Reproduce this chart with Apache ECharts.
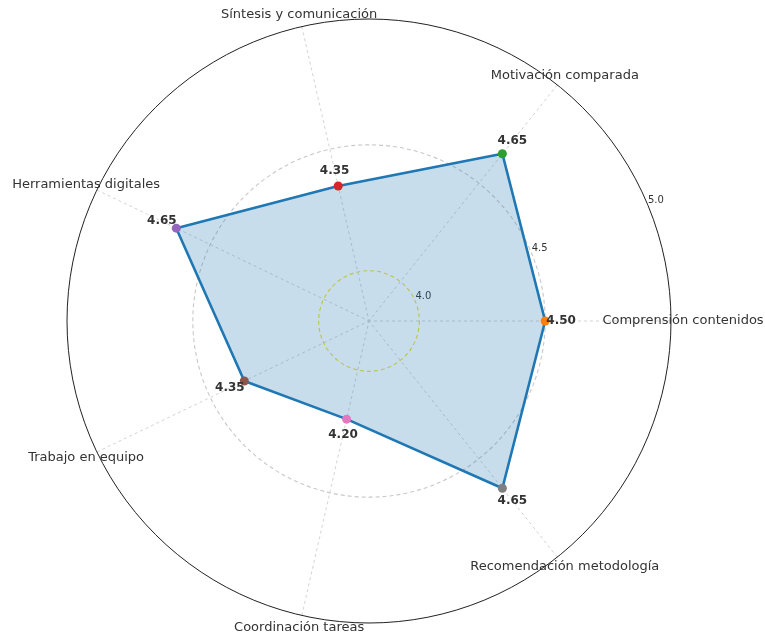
<!DOCTYPE html>
<html>
<head>
<meta charset="utf-8">
<script src="https://cdn.jsdelivr.net/npm/echarts@6/dist/echarts.min.js"></script>
<style>html,body{margin:0;padding:0;background:#fff}#c{width:765px;height:632px}</style>
</head>
<body>
<div id="c"></div>
<script>
const categories = ['Comprensión contenidos','Motivación comparada','Síntesis y comunicación','Herramientas digitales','Trabajo en equipo','Coordinación tareas','Recomendación metodología'];
const values = [4.50, 4.65, 4.35, 4.65, 4.35, 4.20, 4.65];
const markerColors = ['#ff7f0e','#2ca02c','#d62728','#9467bd','#8c564b','#e377c2','#7f7f7f'];
const radialTicks = [4.0, 4.5, 5.0];
const rMin = 3.8, rMax = 5.0;

const FONT = 'DejaVu Sans';
const n = categories.length;
const chart = echarts.init(document.getElementById('c'), null, {renderer:'canvas'});

const lineData = values.map((v, i) => {
  const a = i * 2 * Math.PI / n;
  const d = 16;
  return {
    value: [v, i],
    itemStyle: {color: markerColors[i]},
    label: {show: true, position: 'inside', offset: [d*Math.cos(a), -d*Math.sin(a)]}
  };
});
lineData.push({value: [values[0], n], symbol: 'none', label: {show: false}});

const center = [369, 321];
const R = 302;

chart.setOption({
  animation: false,
  backgroundColor: '#fff',
  polar: [
    {center: center, radius: R},
    {center: center, radius: R}
  ],
  angleAxis: [
    {
      polarIndex: 0, type: 'value', min: 0, max: n, interval: 1, startAngle: 0, clockwise: false,
      axisLine: {show: true, lineStyle: {color: '#222', width: 1}},
      axisTick: {show: false},
      axisLabel: {show: false},
      splitLine: {show: true, lineStyle: {color: '#c8c8c8', type: [3, 3], width: 0.8}}
    },
    {
      polarIndex: 1, type: 'value', min: 0, max: 360, startAngle: 22.5, clockwise: false,
      axisLine: {show: false}, axisTick: {show: false}, axisLabel: {show: false}, splitLine: {show: false}
    }
  ],
  radiusAxis: [
    {
      polarIndex: 0, min: rMin, max: rMax, splitNumber: 2,
      axisLine: {show: false}, axisTick: {show: false}, axisLabel: {show: false},
      splitLine: {show: true, lineStyle: {color: ['rgba(0,0,0,0)', 'rgb(240,222,30)', '#c8c8c8', 'rgba(0,0,0,0)'], type: [4, 3], width: 1.1}}
    },
    {
      polarIndex: 1, min: rMin, max: rMax, splitNumber: 2,
      axisLine: {show: false}, axisTick: {show: false}, splitLine: {show: false},
      axisLabel: {
        show: true, fontFamily: FONT, fontSize: 10, color: '#333', margin: 0,
        align: 'left', verticalAlign: 'bottom',
        formatter: v => (radialTicks.some(t => Math.abs(t - v) < 1e-6) ? v.toFixed(1) : '')
      }
    }
  ],
  series: [
    {
      type: 'line', coordinateSystem: 'polar', polarIndex: 0,
      data: lineData,
      symbol: 'circle', symbolSize: 9,
      lineStyle: {color: '#1f77b4', width: 2.6},
      areaStyle: {color: 'rgba(31,119,180,0.25)', opacity: 1},
      label: {
        fontFamily: FONT, fontSize: 12, fontWeight: 'bold', color: '#333',
        align: 'center', verticalAlign: 'middle',
        formatter: p => p.value[0].toFixed(2)
      },
      z: 3
    }
  ]
});

// category labels centred just outside the outer circle, positioned from the polar scale
const c0 = chart.convertToPixel({seriesIndex: 0}, [rMin, 0]);
const pad = 12;
const graphics = categories.map((name, i) => {
  const p = chart.convertToPixel({seriesIndex: 0}, [rMax, i]);
  const dx = p[0] - c0[0], dy = p[1] - c0[1];
  const len = Math.sqrt(dx*dx + dy*dy) || 1;
  return {
    type: 'text',
    x: p[0] + dx/len*pad, y: p[1] + dy/len*pad,
    style: {text: name, font: '13px "' + FONT + '"', fill: '#333', align: 'center', verticalAlign: 'middle'},
    z: 10
  };
});
chart.setOption({graphic: graphics});
</script>
</body>
</html>
